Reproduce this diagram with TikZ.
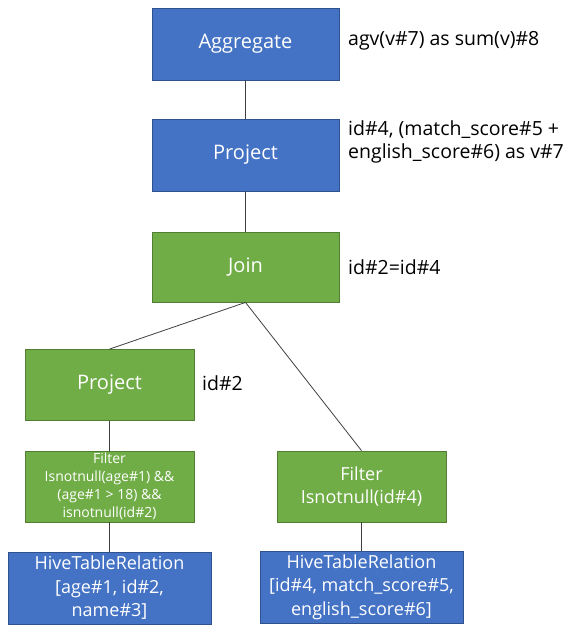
\documentclass[tikz,border=0pt]{standalone}
\usepackage{fontspec}
\setmainfont{Open Sans}
\definecolor{boxblue}{HTML}{4472C4}
\definecolor{blueedge}{HTML}{2F528F}
\definecolor{boxgreen}{HTML}{70AD47}
\definecolor{greenedge}{HTML}{507E32}
\definecolor{linegray}{HTML}{404040}
\tikzset{
  opbox/.style={draw, line width=0.8pt, text=white, align=center, inner sep=0pt, minimum width=187pt, minimum height=72pt, font=\fontsize{20}{24}\selectfont},
  bluebox/.style={opbox, fill=boxblue, draw=blueedge},
  greenbox/.style={opbox, fill=boxgreen, draw=greenedge},
  smallbox/.style={minimum width=169pt, minimum height=71pt},
  hivebox/.style={minimum width=203pt, minimum height=72pt, font=\fontsize{18}{23.5}\selectfont},
  note/.style={anchor=west, align=left, inner sep=0pt, font=\fontsize{19.5}{23}\selectfont},
  link/.style={draw=linegray, line width=0.8pt},
}
\begin{document}
\begin{tikzpicture}[x=1pt,y=-1pt]
\useasboundingbox (0,0) rectangle (578,633);
\node[bluebox] (agg) at (245.5,44) {Aggregate};
\node[bluebox] (proj) at (245.5,155) {Project};
\node[greenbox, minimum height=70pt] (join) at (245.5,267) {Join};
\node[greenbox, smallbox] (projl) at (109.5,385) {Project};
\node[greenbox, smallbox, font=\fontsize{14}{18}\selectfont] (filtl) at (109.5,486.5) {Filter\\Isnotnull(age\#1) \&\&\\(age\#1 > 18) \&\&\\isnotnull(id\#2)};
\node[greenbox, smallbox, font=\fontsize{18}{23}\selectfont] (filtr) at (361.5,486.5) {Filter\\Isnotnull(id\#4)};
\node[bluebox, hivebox] (hivel) at (109.5,588) {HiveTableRelation\\{[age\#1, id\#2,}\\name\#3]};
\node[bluebox, hivebox] (hiver) at (361.5,587) {HiveTableRelation\\{[id\#4, match\_score\#5,}\\english\_score\#6]};
\node[note] (n1) at (348,41) {agv(v\#7) as sum(v)\#8};
\node[note] (n2) at (348,142) {id\#4, (match\_score\#5 +\\english\_score\#6) as v\#7};
\node[note] (n3) at (348,267) {id\#2=id\#4};
\node[note] (n4) at (202,383) {id\#2};
\draw[link] (agg) -- (proj);
\draw[link] (proj) -- (join);
\draw[link] (join.south) -- (projl.north);
\draw[link] (join.south) -- (filtr.north);
\draw[link] (projl) -- (filtl);
\draw[link] (filtl) -- (hivel);
\draw[link] (filtr) -- (hiver);
\end{tikzpicture}
\end{document}
